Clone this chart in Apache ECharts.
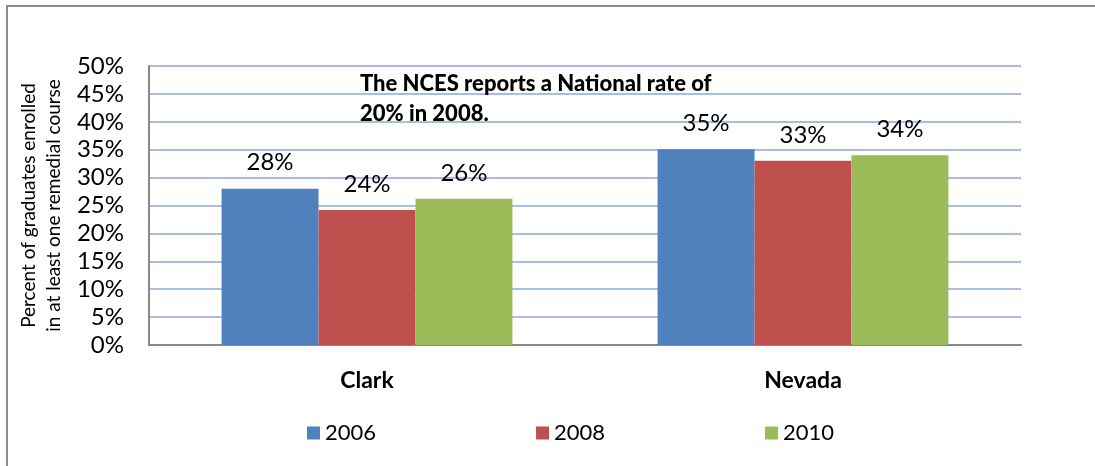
<!DOCTYPE html>
<html><head><meta charset="utf-8">
<script src="https://cdn.jsdelivr.net/npm/echarts@6/dist/echarts.min.js"></script>
<style>html,body{margin:0;padding:0;background:#fff}#c{width:1095px;height:466px}</style>
</head><body><div id="c"></div>
<script>
const categories = ['Clark', 'Nevada'];
const seriesNames = ['2006', '2008', '2010'];
const values2006 = [28, 35.1];
const values2008 = [24.2, 33];
const values2010 = [26.2, 34];
const yTicks = [0, 5, 10, 15, 20, 25, 30, 35, 40, 45, 50];
const colors = ['#4F81BD', '#C0504D', '#9BBB59'];
const FONT = 'Lato';

const chart = echarts.init(document.getElementById('c'));
const dataSets = [values2006, values2008, values2010];
chart.setOption({
  animation: false,
  textStyle: { fontFamily: FONT },
  graphic: [
    { type: 'rect', shape: { x: 7, y: 6, width: 1200, height: 600 }, style: { fill: 'none', stroke: '#8c8c8c', lineWidth: 2 }, z: 0 },
    { type: 'text', left: 360, top: 69, style: { text: 'The NCES reports a National rate of\n20% in 2008.', font: '900 22px ' + FONT, fill: '#000', lineHeight: 30 }, z: 10 }
  ],
  grid: { left: 149, right: 74, top: 66, bottom: 121 },
  legend: {
    left: 307, top: 422, padding: 0, itemWidth: 13, itemHeight: 13, itemGap: 160,
    icon: 'rect',
    textStyle: { fontSize: 22, fontFamily: FONT, color: '#000' },
    data: seriesNames
  },
  xAxis: {
    type: 'category', data: categories,
    axisLine: { lineStyle: { color: '#888', width: 2 } },
    axisTick: { show: false },
    axisLabel: { fontSize: 23, fontWeight: 'bold', color: '#000', margin: 24, fontFamily: FONT }
  },
  yAxis: {
    type: 'value', min: 0, max: 50, interval: 5,
    name: 'Percent of graduates enrolled\nin at least one remedial course',
    nameLocation: 'middle', nameRotate: 90, nameGap: 80,
    nameTextStyle: { fontSize: 19, color: '#000', lineHeight: 25, fontFamily: FONT },
    axisLine: { show: true, lineStyle: { color: '#888', width: 2 } },
    axisTick: { show: false },
    splitLine: { lineStyle: { color: '#A7BDE4', width: 2 } },
    axisLabel: { fontSize: 24, color: '#000', margin: 25, fontFamily: FONT, formatter: v => yTicks.includes(v) ? v + '%' : '' }
  },
  series: seriesNames.map((n, i) => ({
    name: n, type: 'bar', data: dataSets[i],
    barGap: '0%', barCategoryGap: '33.3%',
    itemStyle: { color: colors[i] },
    label: { show: true, position: 'top', distance: 14, fontSize: 24, color: '#000', fontFamily: FONT, formatter: p => Math.round(p.value) + '%' }
  }))
});
</script></body></html>
